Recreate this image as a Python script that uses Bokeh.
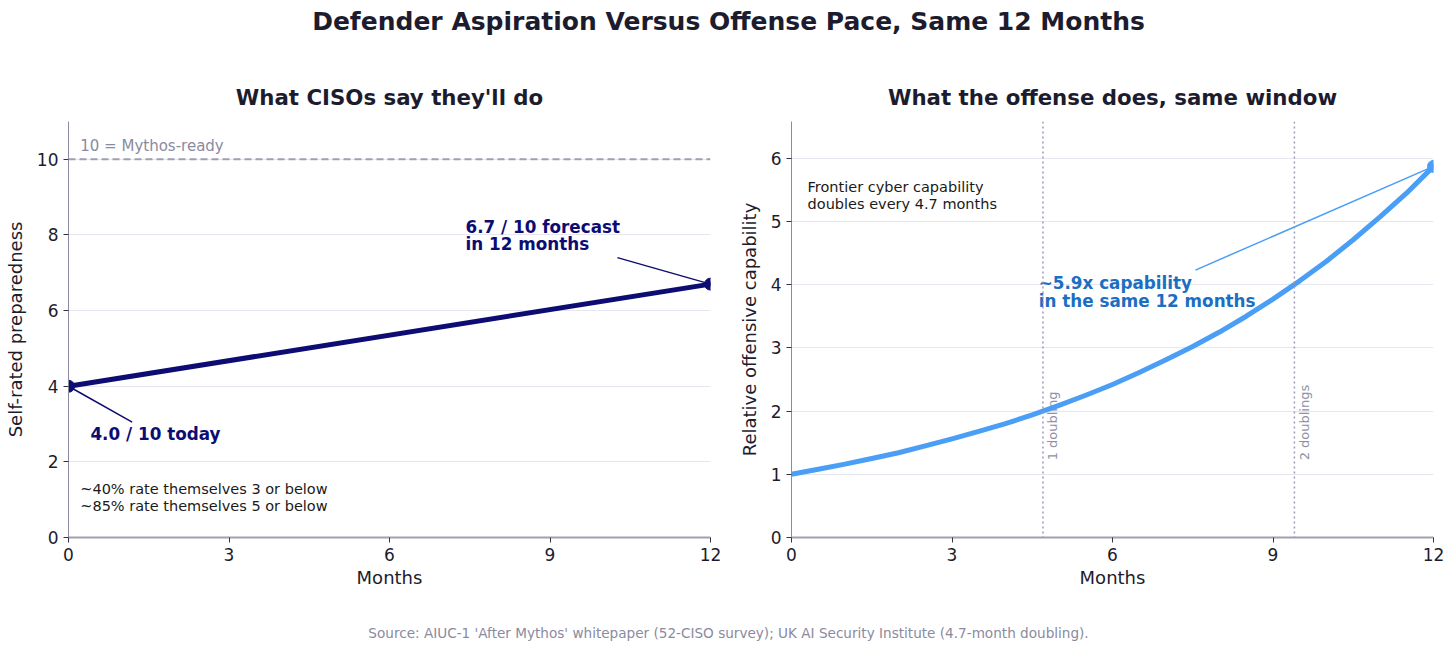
from bokeh.plotting import figure
from bokeh.layouts import column, row
from bokeh.models import Range1d, FixedTicker, Span, ColumnDataSource
from bokeh.core.properties import value
from bokeh.embed import file_html
from bokeh.resources import INLINE

# ---------------- data ----------------
defender_months = [0, 12]
defender_scores = [4.0, 6.7]
ready_level = 10

offense_months = [0, 0.5, 1, 1.5, 2, 2.5, 3, 3.5, 4, 4.5, 5, 5.5, 6,
                  6.5, 7, 7.5, 8, 8.5, 9, 9.5, 10, 10.5, 11, 11.5, 12]
offense_capability = [1.00, 1.08, 1.16, 1.25, 1.34, 1.45, 1.56, 1.68, 1.80, 1.94,
                      2.09, 2.25, 2.42, 2.61, 2.81, 3.02, 3.25, 3.50, 3.77, 4.06,
                      4.37, 4.71, 5.07, 5.45, 5.87]
doubling_months = [4.7, 9.4]
doubling_labels = ["1 doubling", "2 doublings"]

month_ticks = [0, 3, 6, 9, 12]
left_y_ticks = [0, 2, 4, 6, 8, 10]
right_y_ticks = [0, 1, 2, 3, 4, 5, 6]

FONT = "DejaVu Sans"
DARK = "#1c1c2e"
GREY = "#8a8aa0"
NAVY = "#0c0c72"
BLUE = "#4a9ef5"
BLUE_TXT = "#1b6ec2"
W = 1456


def style(p, yticks, ylabel, axis_standoff):
    p.outline_line_color = None
    p.background_fill_color = "white"
    p.border_fill_color = "white"
    p.xgrid.grid_line_color = None
    p.ygrid.grid_line_color = "#e6e6f0"
    p.ygrid.grid_line_width = 1
    p.xaxis.ticker = FixedTicker(ticks=month_ticks)
    p.yaxis.ticker = FixedTicker(ticks=yticks)
    p.xaxis.axis_label = "Months"
    p.yaxis.axis_label = ylabel
    for ax in (p.xaxis[0], p.yaxis[0]):
        ax.axis_label_text_font = FONT
        ax.axis_label_text_font_size = "18px"
        ax.axis_label_text_font_style = "normal"
        ax.axis_label_text_color = DARK
        ax.major_label_text_font = FONT
        ax.major_label_text_font_size = "17px"
        ax.major_label_text_color = DARK
        ax.major_tick_out = 5
        ax.major_tick_in = 0
        ax.major_tick_line_color = "#333344"
        ax.minor_tick_line_color = None
        ax.major_label_standoff = 5
    p.xaxis.axis_line_color = "#a0a0b2"
    p.xaxis.axis_line_width = 2
    p.yaxis.axis_line_color = "#8a8aa0"
    p.yaxis.axis_line_width = 1
    p.xaxis.axis_label_standoff = 3
    p.yaxis.axis_label_standoff = axis_standoff


def txt(p, x, y, s, color, size, bold=False, align="left", baseline="middle", angle=0):
    p.text(x=[x], y=[y], text=[s], text_color=color, text_font=value(FONT),
           text_font_size=size, text_font_style="bold" if bold else "normal",
           text_align=align, text_baseline=baseline, angle=angle)


# ---------------- header ----------------
top = figure(width=W, height=121, x_range=Range1d(0, W), y_range=Range1d(0, 121),
             x_axis_type=None, y_axis_type=None, toolbar_location=None,
             output_backend="svg", min_border=0)
top.outline_line_color = None
top.grid.grid_line_color = None
txt(top, 728, 100, "Defender Aspiration Versus Offense Pace, Same 12 Months", DARK, "25px", True, "center")
txt(top, 389, 24, "What CISOs say they'll do", DARK, "21.3px", True, "center")
txt(top, 1112, 24, "What the offense does, same window", DARK, "21.3px", True, "center")

# ---------------- left panel ----------------
p1 = figure(width=728, height=479, x_range=Range1d(0, 12), y_range=Range1d(0, 11),
            toolbar_location=None, output_backend="svg",
            min_border_left=68, min_border_right=18, min_border_top=0, min_border_bottom=63)
style(p1, left_y_ticks, "Self-rated preparedness", 8)

p1.add_layout(Span(location=ready_level, dimension="width", line_color="#9e9eb4",
                   line_width=2, line_dash="7 4"))
txt(p1, 0.22, ready_level + 0.34, "10 = Mythos-ready", GREY, "15px")

src1 = ColumnDataSource(dict(x=defender_months, y=defender_scores))
p1.line("x", "y", source=src1, line_color=NAVY, line_width=5, line_cap="round")
p1.scatter("x", "y", source=src1, size=12, fill_color=NAVY, line_color=NAVY)

# annotations
p1.segment(x0=[1.19], y0=[3.05], x1=[defender_months[0]], y1=[defender_scores[0]],
           line_color=NAVY, line_width=1.5)
txt(p1, 0.41, 2.75, "4.0 / 10 today", NAVY, "16.8px", True)
p1.segment(x0=[10.26], y0=[7.40], x1=[defender_months[1]], y1=[defender_scores[1]],
           line_color=NAVY, line_width=1.5)
txt(p1, 7.42, 8.22, "6.7 / 10 forecast", NAVY, "16.8px", True)
txt(p1, 7.42, 7.75, "in 12 months", NAVY, "16.8px", True)

txt(p1, 0.22, 1.27, "~40% rate themselves 3 or below", "#1a1a1a", "14.5px")
txt(p1, 0.22, 0.82, "~85% rate themselves 5 or below", "#1a1a1a", "14.5px")

# ---------------- right panel ----------------
p2 = figure(width=728, height=479, x_range=Range1d(0, 12), y_range=Range1d(0, 6.58),
            toolbar_location=None, output_backend="svg",
            min_border_left=63, min_border_right=23, min_border_top=0, min_border_bottom=63)
style(p2, right_y_ticks, "Relative offensive capability", 8)

for m, lab in zip(doubling_months, doubling_labels):
    p2.add_layout(Span(location=m, dimension="height", line_color="#9a9ab8",
                       line_width=1.5, line_dash="2 3"))
    txt(p2, m + 0.04, 1.22, lab, "#9090a6", "13px", False, "left", "top", 1.5707963)

src2 = ColumnDataSource(dict(x=offense_months, y=offense_capability))
p2.line("x", "y", source=src2, line_color=BLUE, line_width=5, line_cap="round",
        line_join="round")
p2.scatter(x=[offense_months[-1]], y=[offense_capability[-1]], size=12,
           fill_color=BLUE, line_color=BLUE)

txt(p2, 0.30, 5.54, "Frontier cyber capability", "#1a1a1a", "14.5px")
txt(p2, 0.30, 5.27, "doubles every 4.7 months", "#1a1a1a", "14.5px")

p2.segment(x0=[7.55], y0=[4.23], x1=[offense_months[-1]], y1=[offense_capability[-1]],
           line_color=BLUE, line_width=1.5)
txt(p2, 4.62, 4.02, "~5.9x capability", BLUE_TXT, "16.8px", True)
txt(p2, 4.62, 3.74, "in the same 12 months", BLUE_TXT, "16.8px", True)

# ---------------- footer ----------------
bottom = figure(width=W, height=50, x_range=Range1d(0, W), y_range=Range1d(0, 50),
                x_axis_type=None, y_axis_type=None, toolbar_location=None,
                output_backend="svg", min_border=0)
bottom.outline_line_color = None
bottom.grid.grid_line_color = None
txt(bottom, 728, 18,
    "Source: AIUC-1 'After Mythos' whitepaper (52-CISO survey); UK AI Security Institute (4.7-month doubling).",
    GREY, "13.6px", False, "center")

layout = column(top, row(p1, p2), bottom)
open("out.html", "w").write(file_html(layout, INLINE))
